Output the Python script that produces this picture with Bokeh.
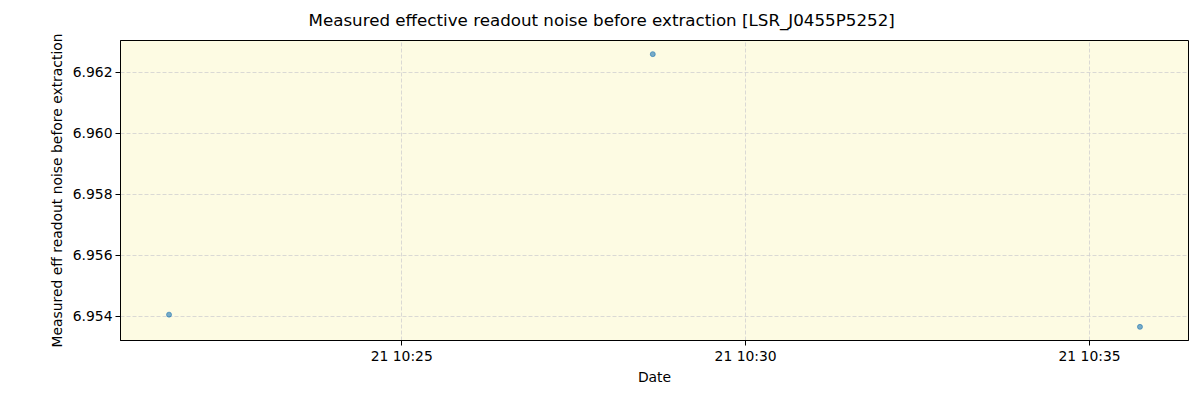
import pandas as pd
from bokeh.plotting import figure
from bokeh.models import Range1d, FixedTicker, DatetimeTickFormatter, NumeralTickFormatter
from bokeh.embed import file_html
from bokeh.resources import INLINE

# data
dates = ["2023-01-21 10:21:37", "2023-01-21 10:28:39", "2023-01-21 10:35:44"]
noise = [6.95406, 6.96259, 6.95366]
x_ticks = ["2023-01-21 10:25:00", "2023-01-21 10:30:00", "2023-01-21 10:35:00"]
y_ticks = [6.954, 6.956, 6.958, 6.960, 6.962]
title_text = "Measured effective readout noise before extraction [LSR_J0455P5252]"

t = pd.to_datetime(dates)
tmin, tmax = t.min(), t.max()
span = tmax - tmin
x_start = tmin - span * 0.05
x_end = tmax + span * 0.05
ymin, ymax = min(noise), max(noise)
ypad = (ymax - ymin) * 0.05

FONT = "DejaVu Sans"

p = figure(width=1192, height=392, output_backend="svg", toolbar_location=None,
           x_axis_type="datetime",
           x_range=Range1d(x_start, x_end), y_range=Range1d(ymin - ypad, ymax + ypad),
           min_border_left=120, min_border_right=4, min_border_top=40, min_border_bottom=52)

p.border_fill_color = "white"
p.background_fill_color = "#fdfbe3"
p.outline_line_color = "black"
p.outline_line_width = 1

p.scatter(t, noise, size=5, fill_color="#1f77b4", fill_alpha=0.6,
          line_color="#1f77b4", line_alpha=0.6)

xt = [pd.Timestamp(v).value // 10**6 for v in x_ticks]
p.xaxis.ticker = FixedTicker(ticks=xt)
p.xaxis.formatter = DatetimeTickFormatter(minutes="%d %H:%M", hours="%d %H:%M",
                                          minsec="%d %H:%M", seconds="%d %H:%M")
p.yaxis.ticker = FixedTicker(ticks=y_ticks)
p.yaxis.formatter = NumeralTickFormatter(format="0.000")

for ax in [p.xaxis[0], p.yaxis[0]]:
    ax.major_label_text_font = FONT
    ax.major_label_text_font_size = "13.9px"
    ax.major_label_text_color = "black"
    ax.axis_label_text_font = FONT
    ax.axis_label_text_font_size = "13.9px"
    ax.axis_label_text_font_style = "normal"
    ax.axis_label_text_color = "black"
    ax.major_tick_out = 5
    ax.major_tick_in = 0
    ax.minor_tick_out = 0
    ax.minor_tick_in = 0
    ax.axis_line_color = "black"
    ax.major_tick_line_color = "black"

p.xaxis.axis_label = "Date"
p.yaxis.axis_label = "Measured eff readout noise before extraction"
p.xaxis.major_label_standoff = 2
p.yaxis.major_label_standoff = 3
p.xaxis.axis_label_standoff = 2
p.yaxis.axis_label_standoff = 5

p.grid.grid_line_color = "#d0d0d0"
p.grid.grid_line_dash = "4 2"
p.grid.grid_line_width = 0.8

p.title.text = title_text
p.title.text_font = FONT
p.title.text_font_size = "16.7px"
p.title.text_font_style = "normal"
p.title.text_color = "black"
p.title.align = "left"
p.title.offset = 188
p.title.standoff = 17
p.title.vertical_align = "top"

open("out.html", "w").write(file_html(p, INLINE))
